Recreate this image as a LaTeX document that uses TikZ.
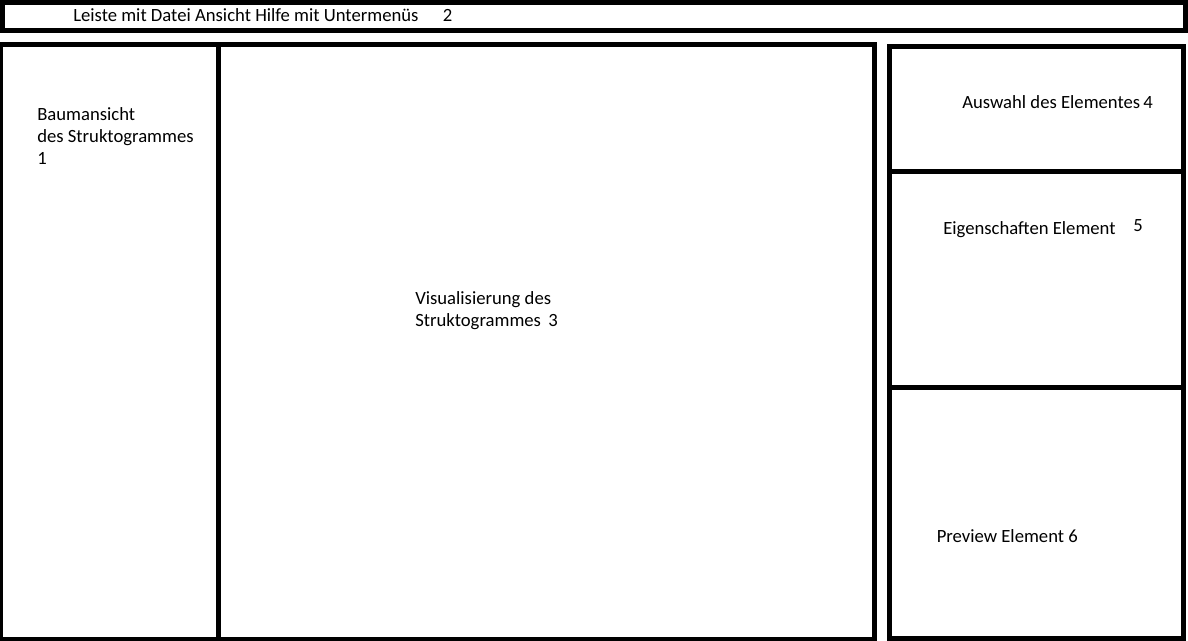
\documentclass[tikz,border=0pt]{standalone}
\usepackage{fontspec}
\setmainfont{Carlito}
\usepackage{tikz}
\usetikzlibrary{positioning}

\begin{document}
\begin{tikzpicture}[
      x=0.75pt, y=-0.75pt,
      panel/.style={draw, line width=3.75pt},
      lbl/.style={anchor=base west, inner sep=0pt, align=left,
                  font=\fontsize{14}{16.5}\selectfont}
  ]
    \useasboundingbox (0,0) rectangle (1188,641);
    \clip (0,0) rectangle (1188,641);

    % menu bar
    \draw[panel] (2.5,2.5) rectangle (1185.5,30.5);
    % tree view and visualisation
    \draw[panel] (0.5,44.5) rectangle (874.5,639.5);
    \draw[panel] (218,44.5) -- (218,639.5);
    % right column
    \draw[panel] (889.5,46.5) rectangle (1183.5,638.5);
    \draw[panel] (889.5,171.5) -- (1183.5,171.5);
    \draw[panel] (889.5,387) -- (1183.5,387);

    \node[lbl] (menu)  at (73,21.5)   {Leiste mit Datei Ansicht Hilfe mit Untermenüs};
    \node[lbl] (menuno) at (442.5,21.5) {2};
    \node[lbl] (tree)  at (37,165)    {Baumansicht\\des Struktogrammes\\1};
    \node[lbl] (vis)   at (415,326.5) {Visualisierung des\\Struktogrammes\, 3};
    \node[lbl] (sel)   at (962,108.5) {Auswahl des Elementes\,4};
    \node[lbl] (prop)  at (943,234.5) {Eigenschaften Element};
    \node[lbl] (propno) at (1133,231.5) {5};
    \node[lbl] (prev)  at (936.5,542) {Preview Element 6};
\end{tikzpicture}
\end{document}
